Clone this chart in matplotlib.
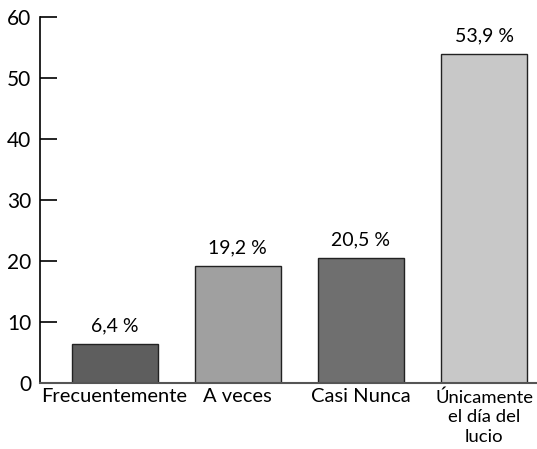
import matplotlib.pyplot as plt

categories = ['Frecuentemente', 'A veces', 'Casi Nunca', 'Únicamente\nel día del\nlucio']
values = [6.4, 19.2, 20.5, 53.9]
bar_colors = ['#5e5e5e', '#a0a0a0', '#6f6f6f', '#c8c8c8']
yticks = [0, 10, 20, 30, 40, 50, 60]

plt.rcParams['font.family'] = ['Lato', 'DejaVu Sans']

fig = plt.figure(figsize=(5.37, 4.49), dpi=100)
ax = fig.add_axes([39.5 / 537, (449 - 383) / 449, (537 - 39.5) / 537, 366 / 449])

x = list(range(len(categories)))
ax.bar(x, values, width=0.7, color=bar_colors, edgecolor='#222222', linewidth=1.0, zorder=2)

for xi, v in zip(x, values):
    ax.text(xi, v + 1.6, f'{v:.1f} %'.replace('.', ','), ha='center', va='bottom', fontsize=14)

ax.set_xlim(-0.61, 3.43)
ax.set_ylim(0, 60)
ax.set_yticks(yticks)
ax.tick_params(axis='y', direction='in', length=12, width=1.2, labelsize=15, pad=6)
ax.set_xticks(x)
ax.set_xticklabels([])
ax.tick_params(axis='x', length=0)

for xi, lab in zip(x, categories):
    if '\n' in lab:
        ax.text(xi, -1.0, lab, ha='center', va='top', fontsize=13.3, linespacing=1.3, clip_on=False)
    else:
        ax.text(xi, -0.8, lab, ha='center', va='top', fontsize=14.5, clip_on=False)

ax.spines['top'].set_visible(False)
ax.spines['right'].set_visible(False)
ax.spines['left'].set_linewidth(1.2)
ax.spines['bottom'].set_color('#555555')
ax.spines['bottom'].set_linewidth(1.5)

fig.savefig('out.png', dpi=100)
